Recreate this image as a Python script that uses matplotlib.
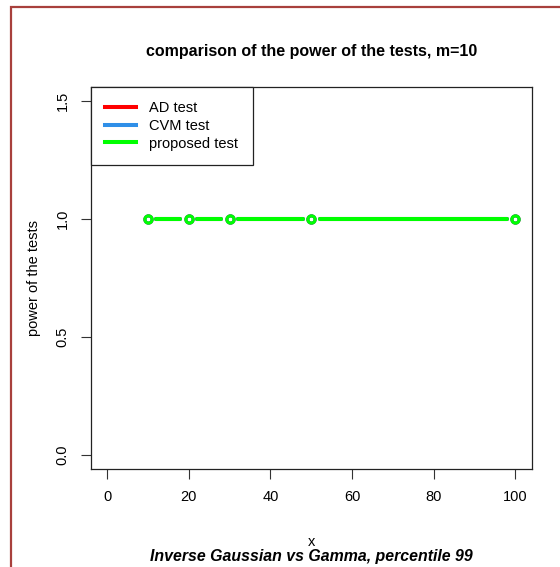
import numpy as np
import matplotlib
matplotlib.use('Agg')
import matplotlib.pyplot as plt
import matplotlib.patches as mpatches

plt.rcParams['font.family'] = ['Liberation Sans', 'DejaVu Sans']

# data
sizes = [10, 20, 30, 50, 100]
power_ad = [1.0, 1.0, 1.0, 1.0, 1.0]
power_cvm = [1.0, 1.0, 1.0, 1.0, 1.0]
power_prop = [1.0, 1.0, 1.0, 1.0, 1.0]
series_names = ['AD test', 'CVM test', 'proposed test']
series_cols = ['#ff0000', '#2f8fe8', '#00ff00']
xticks = [0, 20, 40, 60, 80, 100]
yticks = [0.0, 0.5, 1.0, 1.5]


def type_b(ax, x, y, col, gap=2.1):
    # R style type="b": circles joined by segments that stop short of the points
    x = np.asarray(x, float)
    y = np.asarray(y, float)
    for i in range(len(x) - 1):
        d = x[i + 1] - x[i]
        if d <= 2 * gap:
            continue
        ax.plot([x[i] + gap, x[i + 1] - gap], [y[i], y[i + 1]], color=col,
                lw=2.9, solid_capstyle='round', zorder=3)
    ax.plot(x, y, ls='none', marker='o', ms=5.2, mfc='none', mec=col,
            mew=2.2, zorder=4)


fig = plt.figure(figsize=(5.6, 5.67), dpi=100)
ax = fig.add_axes([90.7 / 560, 1 - 469.3 / 567, 441 / 560, 382.6 / 567])

for vals, col in zip([power_ad, power_cvm, power_prop], series_cols):
    type_b(ax, sizes, vals, col)

ax.set_xlim(-4, 104)
ax.set_ylim(-0.06, 1.56)
ax.set_xticks(xticks)
ax.set_yticks(yticks)
ax.set_xticklabels([str(t) for t in xticks])
ax.set_yticklabels(['%.1f' % t for t in yticks], rotation=90, va='center')
ax.tick_params(axis='both', direction='out', length=7, width=0.8,
               labelsize=10.5, color='#333333')
ax.tick_params(axis='x', pad=8)
ax.tick_params(axis='y', pad=8)
for sp in ax.spines.values():
    sp.set_linewidth(0.9)
    sp.set_color('#222222')

ax.set_title('comparison of the power of the tests, m=10', fontsize=11.5,
             fontweight='bold', pad=22)
ax.set_ylabel('power of the tests', fontsize=10.5, labelpad=11)
ax.set_xlabel('x', fontsize=10.5, labelpad=22)
fig.text(0.5 * (90.7 + 531.7) / 560, 1 - 557 / 567,
         'Inverse Gaussian vs Gamma, percentile 99', ha='center', va='center',
         fontsize=11.4, fontweight='bold', fontstyle='italic')

handles = [plt.Line2D([], [], color=c, lw=2.9) for c in series_cols]
leg = ax.legend(handles, series_names, loc='upper left', borderaxespad=0,
                fontsize=10.5, frameon=True, fancybox=False, framealpha=1,
                edgecolor='#222222', handlelength=2.1, handletextpad=0.9,
                labelspacing=0.25, borderpad=1.0)
leg.get_frame().set_linewidth(0.9)

# outer page border
fig.patches.append(mpatches.Rectangle((11 / 560, -0.05), 1.2, 1 - 7 / 567 + 0.05,
                                      transform=fig.transFigure, fill=False,
                                      edgecolor='#a8403c', lw=1.6))

fig.savefig('out.png', dpi=100)
